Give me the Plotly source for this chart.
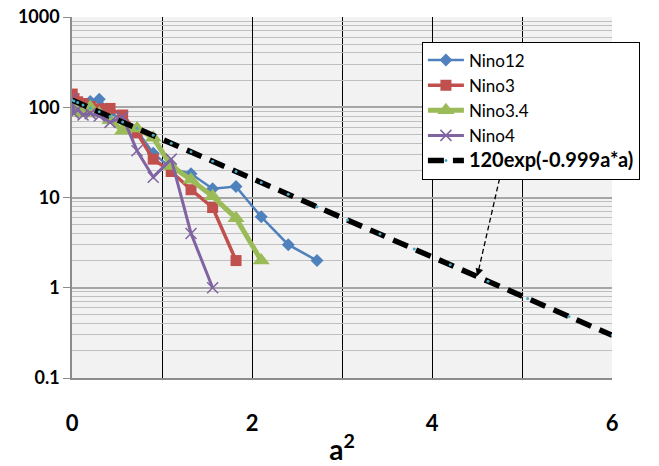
import plotly.graph_objects as go

# a^2 bin positions
x_bins = [0.0025, 0.0225, 0.0625, 0.1225, 0.2025, 0.3025, 0.4225, 0.5625, 0.7225,
          0.9025, 1.1025, 1.3225, 1.5625, 1.8225, 2.1025, 2.4025, 2.7225]

nino12 = [120, 110, 100, 105, 116, 123, 88, 72, 55, 31, 21, 18.3, 12.5, 13.2, 6.1, 3.0, 2.0]
nino3 = [140, 125, 115, 110, 102, 96, 97, 82, 52, 26.6, 19.4, 12.2, 7.75, 2.0]
nino34 = [95, 100, 90, 85, 100, 85, 72, 55, 58, 46, 22.4, 15.7, 10.3, 5.9, 2.0]
nino4 = [125, 85, 95, 82, 85, 80, 68, 78, 33, 16.8, 26.6, 4.0, 1.0]

fit_x = [0.0025, 0.0225, 0.0625, 0.1225, 0.2025, 0.3025, 0.4225, 0.5625, 0.7225,
         0.9025, 1.1025, 1.3225, 1.5625, 1.8225, 2.1025, 2.4025, 2.7225, 3.0625,
         3.4225, 3.8025, 4.2025, 4.6225, 5.0625, 5.5225, 6.0025]
fit_y = [119.70, 117.33, 112.73, 106.16, 98.00, 88.91, 78.85, 68.54, 58.41,
         48.80, 39.96, 32.06, 25.22, 19.44, 14.69, 10.88, 7.91, 5.63,
         3.93, 2.69, 1.80, 1.18, 0.76, 0.48, 0.297]

x_ticks = [0, 2, 4, 6]
y_ticks = [0.1, 1, 10, 100, 1000]
y_ticktext = ["0.1", "1", "10", "100", "1000"]

FONT = "Lato"

fig = go.Figure()
fig.add_trace(go.Scatter(x=x_bins[:len(nino12)], y=nino12, name="Nino12", mode="lines+markers",
                         line=dict(color="#4F81BD", width=2.5),
                         marker=dict(symbol="diamond", size=10, color="#4F81BD")))
fig.add_trace(go.Scatter(x=x_bins[:len(nino3)], y=nino3, name="Nino3", mode="lines+markers",
                         line=dict(color="#C0504D", width=3.5),
                         marker=dict(symbol="square", size=11, color="#C0504D")))
fig.add_trace(go.Scatter(x=x_bins[:len(nino34)], y=nino34, name="Nino3.4", mode="lines+markers",
                         line=dict(color="#9BBB59", width=5),
                         marker=dict(symbol="triangle-up", size=15, color="#9BBB59")))
fig.add_trace(go.Scatter(x=x_bins[:len(nino4)], y=nino4, name="Nino4", mode="lines+markers",
                         line=dict(color="#8064A2", width=3),
                         marker=dict(symbol="x-thin", size=11, color="#8064A2",
                                     line=dict(color="#8064A2", width=1.5))))
fig.add_trace(go.Scatter(x=fit_x, y=fit_y,
                         name='<b><span style="font-size:20px">120exp(-0.999a*a)</span></b>',
                         mode="lines+markers",
                         line=dict(color="black", width=5.5, dash="16px,9px"),
                         marker=dict(size=3, color="#4BACC6")))

# dashed arrow from legend label to the fit line
fig.add_shape(type="line", xref="x", yref="y", x0=4.79, y0=24, x1=4.51, y1=1.45,
              line=dict(color="black", width=1.3, dash="5px,3px"))
fig.add_annotation(x=4.5, y=0.127, xref="x", yref="y", ax=4.53, ay=0.22,
                   axref="x", ayref="y", text="", showarrow=True,
                   arrowhead=2, arrowsize=1.2, arrowwidth=1.3, arrowcolor="black")

fig.update_layout(
    width=659, height=466,
    margin=dict(l=72, r=47, t=17, b=88, autoexpand=False),
    paper_bgcolor="white",
    plot_bgcolor="#F2F2F2",
    font=dict(family=FONT, color="black"),
    showlegend=True,
    legend=dict(x=0.648, y=0.932, xanchor="left", yanchor="top",
                bgcolor="white", bordercolor="black", borderwidth=1,
                font=dict(family=FONT, size=17, color="black"),
                itemwidth=36, tracegroupgap=0),
    xaxis=dict(range=[0, 6], tickvals=x_ticks, ticktext=[str(v) for v in x_ticks],
               showgrid=True, gridcolor="black", gridwidth=1,
               minor=dict(dtick=1, tick0=0, showgrid=True, gridcolor="black", gridwidth=1),
               showline=True, linecolor="#8C8C8C", linewidth=1.5, automargin=False,
               ticks="", zeroline=False, ticklabelstandoff=25,
               tickfont=dict(family=FONT, size=22, color="black", weight="bold"),
               title=dict(text="<b>a<sup>2</sup></b>", font=dict(family=FONT, size=28),
                          standoff=8)),
    yaxis=dict(type="log", range=[-1, 3], tickvals=y_ticks, ticktext=y_ticktext,
               showgrid=True, gridcolor="#A6A6A6", gridwidth=1.5, automargin=False,
               minor=dict(showgrid=True, gridcolor="#BFBFBF", gridwidth=1.2,
                          tickvals=[m * d for d in [0.1, 1, 10, 100] for m in range(2, 10)]),
               showline=True, linecolor="#8C8C8C", linewidth=1.5,
               ticks="outside", ticklen=7, tickcolor="#8C8C8C", zeroline=False,
               tickfont=dict(family=FONT, size=18, color="black", weight="bold")),
)

fig.write_html("out.html")
